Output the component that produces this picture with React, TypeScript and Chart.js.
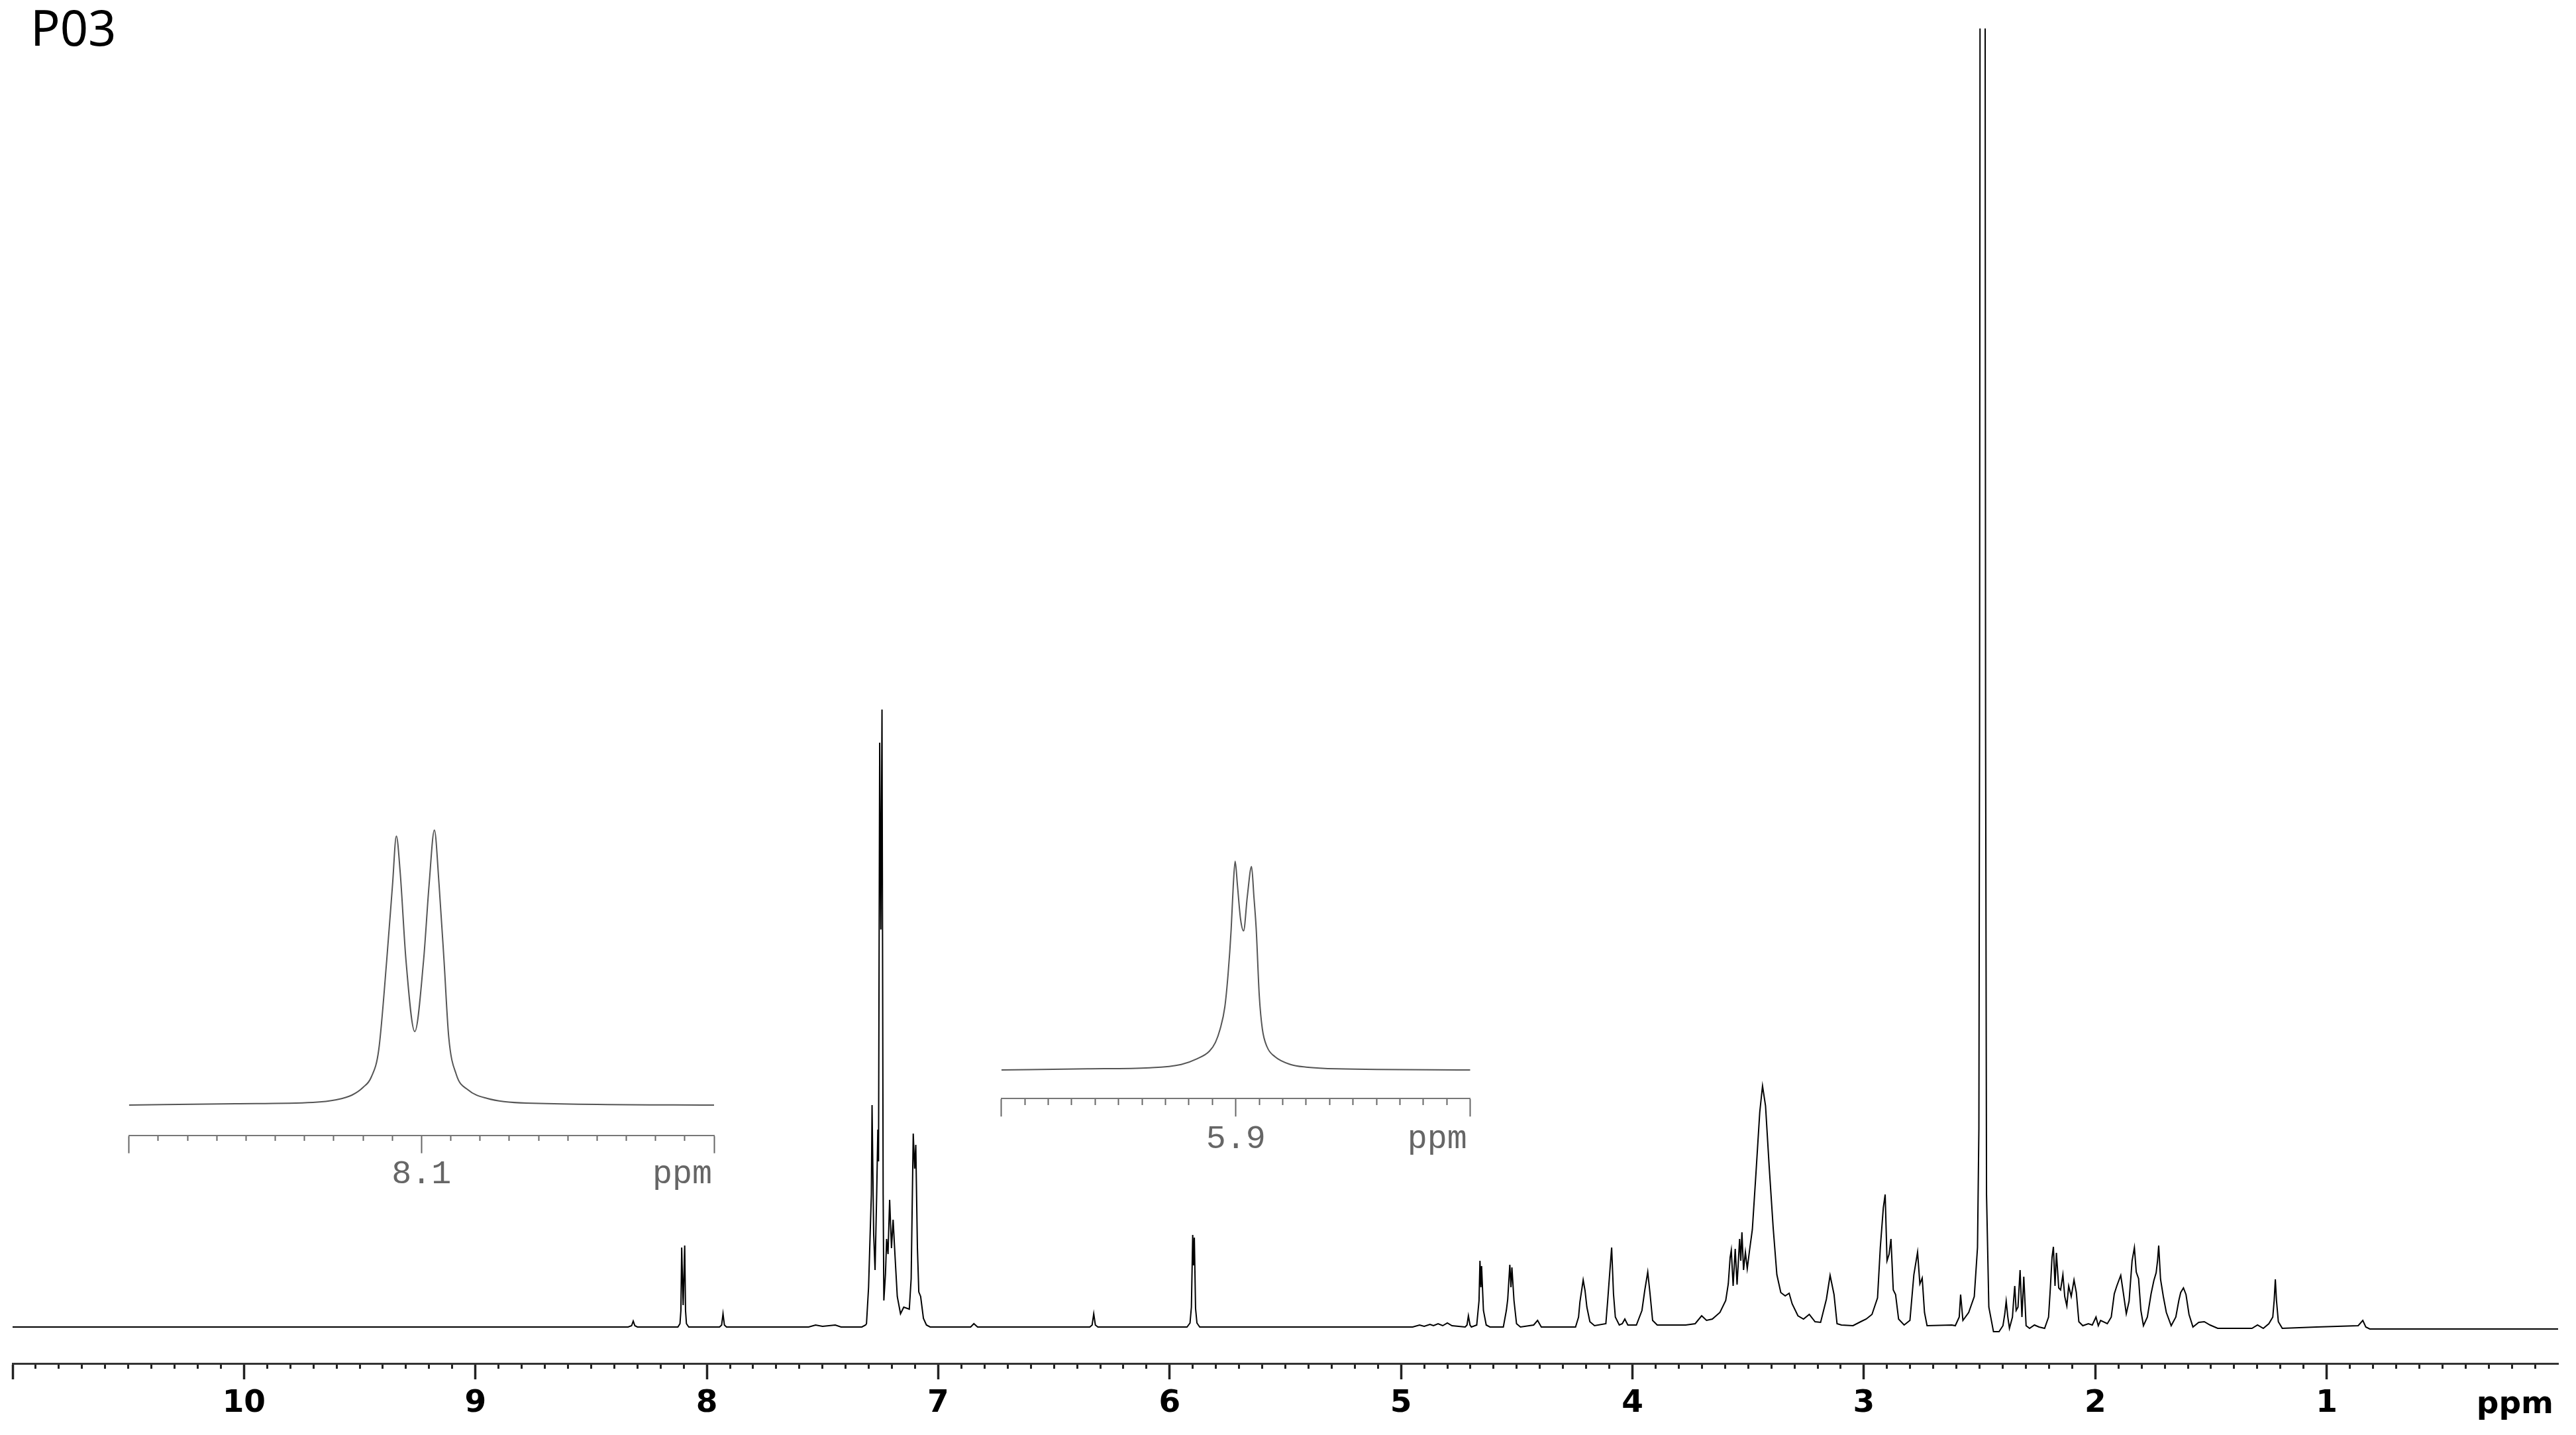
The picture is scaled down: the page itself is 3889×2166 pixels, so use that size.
import React, { useEffect, useRef } from 'react';
import { Chart, registerables } from 'chart.js';

Chart.register(...registerables);

// ---------- text ----------
const TITLE = 'P03';
const UNIT = 'ppm';

// ---------- axes ----------
const MAIN_RANGE: [number, number] = [0, 11];
const MAIN_TICK_STEP = 0.1;
const MAIN_LABELS = [10, 9, 8, 7, 6, 5, 4, 3, 2, 1];

const INSET1_RANGE: [number, number] = [8.0, 8.2];
const INSET1_LABELS = [8.1];
const INSET2_RANGE: [number, number] = [5.8, 6.0];
const INSET2_LABELS = [5.9];
const INSET_TICK_STEP = 0.01;

// ---------- spectrum: [chemical shift (ppm), intensity (a.u.)] ----------
const SPEC_AROMATIC: [number, number][] = [
  [11.0, 0], [8.34, 0], [8.325, 2], [8.318, 9], [8.311, 2], [8.3, 0],
  [8.125, 0], [8.116, 5], [8.112, 25], [8.1086, 120], [8.1023, 33], [8.0956, 123], [8.092, 25], [8.088, 5], [8.078, 0],
  [7.945, 0], [7.936, 3], [7.93, 20], [7.924, 3], [7.915, 0],
  [7.56, 0], [7.53, 3], [7.5, 1], [7.445, 3], [7.42, 0], [7.33, 0],
  [7.314, 3], [7.31, 5], [7.301, 60], [7.294, 143], [7.289, 200], [7.286, 335], [7.279, 140], [7.273, 86],
  [7.266, 200], [7.261, 298], [7.258, 250], [7.253, 882], [7.248, 600], [7.243, 932], [7.238, 200], [7.235, 40],
  [7.228, 80], [7.223, 133], [7.217, 110], [7.21, 192], [7.202, 119], [7.195, 162], [7.187, 109], [7.177, 46],
  [7.163, 20], [7.149, 30], [7.125, 27], [7.117, 73], [7.108, 292], [7.102, 239], [7.097, 275], [7.09, 120],
  [7.084, 53], [7.076, 46], [7.064, 13], [7.051, 3], [7.035, 0],
];

const SPEC_MIDFIELD: [number, number][] = [
  [6.86, 0], [6.846, 5], [6.83, 0],
  [6.345, 0], [6.335, 3], [6.328, 20], [6.321, 3], [6.31, 0],
  [5.925, 0], [5.912, 6], [5.906, 30], [5.9003, 139], [5.8967, 93], [5.8933, 135], [5.888, 28], [5.882, 6], [5.87, 0],
  [4.95, 0], [4.92, 3], [4.9, 1], [4.875, 4], [4.86, 2], [4.84, 5], [4.82, 2], [4.8, 6], [4.78, 2],
  [4.723, 0], [4.715, 3], [4.709, 17], [4.702, 3], [4.696, 0], [4.673, 3], [4.663, 40], [4.659, 100], [4.655, 60],
  [4.652, 92], [4.644, 25], [4.632, 3], [4.616, 0], [4.558, 0], [4.545, 25], [4.539, 42], [4.53, 94], [4.525, 60],
  [4.521, 90], [4.512, 40], [4.501, 5], [4.484, 0], [4.427, 3], [4.41, 10], [4.394, 0], [4.246, 0], [4.233, 15],
  [4.227, 38], [4.213, 71], [4.205, 55], [4.197, 30], [4.184, 8], [4.164, 2], [4.115, 5], [4.107, 40], [4.098, 83],
  [4.09, 120], [4.082, 50], [4.074, 15], [4.057, 3], [4.044, 5], [4.033, 12], [4.02, 3], [3.983, 3], [3.959, 25],
  [3.947, 55], [3.934, 83], [3.924, 50], [3.913, 10], [3.893, 3], [3.77, 3], [3.729, 5], [3.701, 17], [3.68, 10],
  [3.655, 12], [3.622, 22], [3.597, 40], [3.586, 65], [3.578, 105], [3.573, 116], [3.565, 62], [3.556, 118],
  [3.548, 64], [3.537, 133], [3.532, 100], [3.527, 143], [3.52, 86], [3.512, 113], [3.504, 88], [3.494, 116],
  [3.482, 147], [3.466, 234], [3.45, 324], [3.438, 364], [3.425, 334], [3.409, 241], [3.392, 150], [3.376, 79],
  [3.359, 52], [3.34, 47], [3.323, 51], [3.31, 35], [3.285, 17], [3.261, 12], [3.236, 19], [3.211, 8], [3.187, 7],
  [3.162, 42], [3.146, 78], [3.129, 49], [3.116, 5], [3.097, 3], [3.047, 2], [3.014, 8], [2.99, 12], [2.965, 19],
  [2.941, 44], [2.929, 120], [2.916, 180], [2.908, 200], [2.9, 100], [2.891, 110], [2.883, 133], [2.873, 56],
  [2.863, 49], [2.85, 12], [2.826, 3], [2.801, 10], [2.784, 79], [2.768, 113], [2.758, 65], [2.748, 74],
  [2.738, 22], [2.727, 2], [2.62, 3],
];

const SPEC_ALIPHATIC: [number, number][] = [
  [2.605, 2], [2.588, 15], [2.582, 49], [2.572, 10], [2.547, 22], [2.523, 46], [2.509, 120], [2.503, 300],
  [2.5, 900], [2.4975, 2300], [2.487, 2600], [2.4765, 2300], [2.474, 900], [2.47, 200], [2.46, 30], [2.44, -7],
  [2.416, -7], [2.399, 2], [2.391, 20], [2.385, 39], [2.378, 15], [2.371, -2], [2.358, 15], [2.353, 40], [2.348, 62],
  [2.342, 25], [2.334, 30], [2.325, 86], [2.317, 15], [2.309, 76], [2.299, 2], [2.284, -2], [2.263, 3], [2.243, 0],
  [2.219, -2], [2.202, 15], [2.194, 60], [2.187, 105], [2.181, 121], [2.174, 62], [2.168, 112], [2.158, 59],
  [2.15, 56], [2.14, 79], [2.132, 46], [2.123, 32], [2.115, 62], [2.104, 46], [2.092, 71], [2.082, 52], [2.071, 8],
  [2.054, 2], [2.03, 5], [2.013, 3], [1.997, 15], [1.987, 2], [1.977, 10], [1.948, 5], [1.931, 15], [1.918, 50],
  [1.907, 62], [1.89, 78], [1.879, 52], [1.866, 20], [1.854, 39], [1.841, 100], [1.831, 120], [1.823, 83],
  [1.813, 73], [1.803, 25], [1.792, 2], [1.775, 15], [1.759, 50], [1.747, 70], [1.737, 82], [1.731, 100],
  [1.726, 123], [1.718, 72], [1.706, 46], [1.693, 22], [1.672, 2], [1.652, 15], [1.639, 40], [1.631, 52],
  [1.619, 59], [1.608, 49], [1.595, 19], [1.578, 0], [1.553, 7], [1.529, 8], [1.504, 3], [1.471, -2], [1.323, -2],
  [1.299, 3], [1.274, -2], [1.25, 5], [1.233, 15], [1.227, 40], [1.222, 72], [1.217, 40], [1.209, 8], [1.192, -2],
  [1.044, 0], [0.864, 2], [0.844, 10], [0.831, 0], [0.814, -3], [0.0, -3],
];

// ---------- expansions ----------
const INSET1_SPEC: [number, number][] = [
  [8.2, 0], [8.1636, 2], [8.1371, 4], [8.1291, 8], [8.1238, 15], [8.1199, 27], [8.1172, 42], [8.1146, 84],
  [8.1119, 218], [8.1099, 333], [8.1086, 406], [8.1073, 352], [8.1053, 218], [8.1023, 111], [8.0993, 218],
  [8.0974, 333], [8.0956, 415], [8.094, 333], [8.0923, 218], [8.0907, 103], [8.0881, 46], [8.0841, 23],
  [8.0775, 10], [8.0642, 3], [8.0, 0],
];

const INSET2_SPEC: [number, number][] = [
  [6.0, 0], [5.9633, 1.7], [5.9367, 3.3], [5.9233, 8.3], [5.9167, 16.7], [5.9113, 28.3], [5.9087, 41.7],
  [5.9067, 61.7], [5.9047, 95], [5.9033, 145], [5.902, 212], [5.9011, 278], [5.9003, 315], [5.8993, 278],
  [5.898, 228], [5.8967, 210], [5.8951, 262], [5.8933, 307], [5.8923, 262], [5.8913, 212], [5.89, 112],
  [5.8887, 62], [5.8867, 35], [5.8833, 20], [5.8767, 8.3], [5.87, 4.3], [5.8567, 1.7], [5.8, 0],
];

const SPECTRUM = [...SPEC_AROMATIC, ...SPEC_MIDFIELD, ...SPEC_ALIPHATIC];

// ---------- plugin: axis unit label drawn at the right end of the x scale ----------
const unitLabelPlugin = {
  id: 'unitLabel',
  afterDraw(chart: any, _args: any, opts: any) {
    if (!opts || !opts.text) return;
    const s = chart.scales.x;
    const ctx = chart.ctx;
    ctx.save();
    ctx.font = opts.font;
    ctx.fillStyle = opts.color;
    ctx.textAlign = 'right';
    ctx.textBaseline = 'alphabetic';
    ctx.fillText(opts.text, s.right + opts.dx, s.top + opts.dy);
    ctx.restore();
  },
};

type AxisSpec = {
  range: [number, number];
  step: number;
  majorEvery: number;
  labels: number[];
  labelDigits: number;
  hideTickAt?: number;
};

type Spec = {
  points: [number, number][];
  lineColor: string;
  lineWidth: number;
  smooth: boolean;
  padding: { left: number; right: number; top: number; bottom: number };
  axisHeight: number;
  yMin: number;
  yMax: number;
  axis: AxisSpec;
  borderColor: string;
  borderWidth: number;
  tickColor: string;
  majorTickWidth: number;
  minorTickWidth: number;
  tickLength: number;
  minorTickLength: number;
  labelFont: any;
  labelColor: string;
  labelPadding: number;
  unit: { text: string; font: string; color: string; dx: number; dy: number };
};

function isMultiple(v: number, m: number) {
  const q = v / m;
  return Math.abs(q - Math.round(q)) < 1e-6;
}

function buildConfig(spec: Spec): any {
  const ax = spec.axis;
  const major = (c: any) => (c && c.tick ? isMultiple(c.tick.value, ax.majorEvery) : true);
  return {
    type: 'line',
    data: {
      datasets: [
        {
          data: spec.points.map(([x, y]) => ({ x, y })),
          borderColor: spec.lineColor,
          borderWidth: spec.lineWidth,
          pointRadius: 0,
          tension: spec.smooth ? 0.4 : 0,
          cubicInterpolationMode: spec.smooth ? 'monotone' : 'default',
          fill: false,
        },
      ],
    },
    options: {
      animation: false,
      responsive: true,
      maintainAspectRatio: false,
      events: [],
      layout: { padding: spec.padding },
      plugins: {
        legend: { display: false },
        tooltip: { enabled: false },
        title: { display: false },
        unitLabel: spec.unit,
      },
      scales: {
        x: {
          type: 'linear',
          reverse: true,
          min: ax.range[0],
          max: ax.range[1],
          afterFit: (s: any) => {
            s.height = spec.axisHeight;
          },
          border: { display: true, color: spec.borderColor, width: spec.borderWidth },
          grid: {
            display: true,
            drawOnChartArea: false,
            drawTicks: true,
            tickLength: spec.tickLength,
            tickColor: (c: any) =>
              c && c.tick && ax.hideTickAt !== undefined && Math.abs(c.tick.value - ax.hideTickAt) < 1e-6
                ? 'rgba(0,0,0,0)'
                : spec.tickColor,
            tickWidth: (c: any) => (major(c) ? spec.majorTickWidth : spec.minorTickWidth),
            tickBorderDash: (c: any) => (major(c) ? [] : [spec.minorTickLength, 1000]),
          },
          ticks: {
            stepSize: ax.step,
            autoSkip: false,
            maxRotation: 0,
            minRotation: 0,
            padding: spec.labelPadding,
            color: spec.labelColor,
            font: spec.labelFont,
            callback: (value: any) => {
              const v = Number(value);
              const hit = ax.labels.find((l) => Math.abs(l - v) < 1e-6);
              return hit === undefined ? '' : hit.toFixed(ax.labelDigits);
            },
          },
        },
        y: { display: false, min: spec.yMin, max: spec.yMax },
      },
    },
    plugins: [unitLabelPlugin],
  };
}

function ChartBox({ spec, box }: { spec: Spec; box: React.CSSProperties }) {
  const ref = useRef<HTMLCanvasElement>(null);
  useEffect(() => {
    if (!ref.current) return;
    const chart = new Chart(ref.current, buildConfig(spec));
    return () => chart.destroy();
  }, []);
  return (
    <div style={{ position: 'absolute', ...box }}>
      <canvas ref={ref} />
    </div>
  );
}

const MAIN_SPEC: Spec = {
  points: SPECTRUM,
  lineColor: '#000000',
  lineWidth: 2,
  smooth: false,
  padding: { left: 19, right: 27, top: 43, bottom: 0 },
  axisHeight: 108,
  yMin: -55,
  yMax: 1960,
  axis: { range: MAIN_RANGE, step: MAIN_TICK_STEP, majorEvery: 1, labels: MAIN_LABELS, labelDigits: 0, hideTickAt: 0 },
  borderColor: '#333333',
  borderWidth: 3,
  tickColor: '#222222',
  majorTickWidth: 3.5,
  minorTickWidth: 3,
  tickLength: 24,
  minorTickLength: 6,
  labelFont: { family: 'DejaVu Sans', weight: 'bold', size: 47, lineHeight: 1.2 },
  labelColor: '#000000',
  labelPadding: 9,
  unit: { text: UNIT, font: 'bold 47px "DejaVu Sans"', color: '#000000', dx: -7, dy: 75 },
};

const INSET1_SPEC_CFG: Spec = {
  points: INSET1_SPEC,
  lineColor: '#555555',
  lineWidth: 2,
  smooth: true,
  padding: { left: 44.7, right: 72, top: 40, bottom: 0 },
  axisHeight: 106.3,
  yMin: -45.7,
  yMax: 428,
  axis: { range: INSET1_RANGE, step: INSET_TICK_STEP, majorEvery: 0.1, labels: INSET1_LABELS, labelDigits: 1 },
  borderColor: '#777777',
  borderWidth: 2,
  tickColor: '#666666',
  majorTickWidth: 2,
  minorTickWidth: 2,
  tickLength: 27,
  minorTickLength: 7,
  labelFont: { family: 'Liberation Mono', weight: 'normal', size: 50, lineHeight: 1.2 },
  labelColor: '#666666',
  labelPadding: 2,
  unit: { text: UNIT, font: '50px "Liberation Mono"', color: '#666666', dx: -3, dy: 72 },
};

const INSET2_SPEC_CFG: Spec = {
  points: INSET2_SPEC,
  lineColor: '#555555',
  lineWidth: 2,
  smooth: true,
  padding: { left: 51.8, right: 60.3, top: 30, bottom: 0 },
  axisHeight: 111.7,
  yMin: -43.3,
  yMax: 335,
  axis: { range: INSET2_RANGE, step: INSET_TICK_STEP, majorEvery: 0.1, labels: INSET2_LABELS, labelDigits: 1 },
  borderColor: '#777777',
  borderWidth: 2,
  tickColor: '#666666',
  majorTickWidth: 2,
  minorTickWidth: 2,
  tickLength: 27,
  minorTickLength: 9,
  labelFont: { family: 'Liberation Mono', weight: 'normal', size: 50, lineHeight: 1.2 },
  labelColor: '#666666',
  labelPadding: 4,
  unit: { text: UNIT, font: '50px "Liberation Mono"', color: '#666666', dx: -5, dy: 75 },
};

export default function App() {
  return (
    <div
      style={{
        position: 'absolute',
        left: 0,
        top: 0,
        width: 3889,
        height: 2166,
        overflow: 'hidden',
        background: '#ffffff',
      }}
    >
      <ChartBox spec={MAIN_SPEC} box={{ left: 0, top: 0, width: 3889, height: 2166 }} />
      <ChartBox spec={INSET1_SPEC_CFG} box={{ left: 150, top: 1200, width: 1000, height: 620 }} />
      <ChartBox spec={INSET2_SPEC_CFG} box={{ left: 1460, top: 1250, width: 820, height: 520 }} />
      <div
        style={{
          position: 'absolute',
          left: 46,
          top: 4,
          fontFamily: '"Noto Sans", sans-serif',
          fontSize: 74,
          lineHeight: '74px',
          color: '#000000',
          whiteSpace: 'nowrap',
        }}
      >
        {TITLE}
      </div>
    </div>
  );
}
